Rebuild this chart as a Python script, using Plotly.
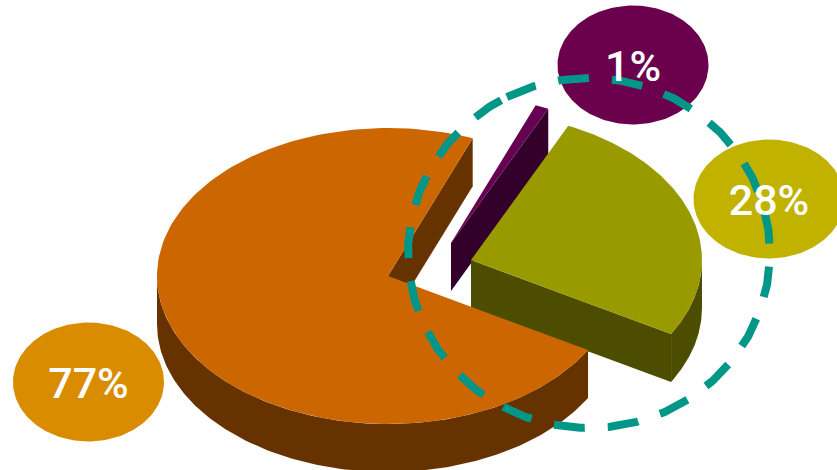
import numpy as np
import plotly.graph_objects as go

# Pie values, listed counter-clockwise starting from the olive slice
labels = ["28%", "1%", "77%"]
values = [28, 1, 77]

# Colours per slice: top face, side wall, label bubble
top_colors = ["#999900", "#660050", "#CC6600"]
wall_colors = ["#4D4D00", "#33002B", "#663300"]
bubble_colors = ["#C2B200", "#6B004D", "#D98C00"]

# Pie geometry in page pixels
CX, CY = 388, 276
RX, RY = 231, 148
DEPTH = 48
START_DEG = -30
explode = [(83, -16), (63, -33), (0, 0)]
bubble_centers = [(769, 199), (633, 65), (88.5, 382)]
BUBBLE_RX, BUBBLE_RY = 75.5, 59.5


def arc(cx, cy, a0, a1, rx=RX, ry=RY, n=160):
    t = np.radians(np.linspace(a0, a1, n))
    return cx + rx * np.cos(t), cy - ry * np.sin(t)


def polygon(xs, ys, color):
    return go.Scatter(
        x=list(xs), y=list(ys), mode="lines", fill="toself", fillcolor=color,
        line=dict(width=0, color=color), hoverinfo="skip",
    )


def top_face(i, a0, a1):
    dx, dy = explode[i]
    x, y = arc(CX + dx, CY + dy, a0, a1)
    return polygon(np.r_[CX + dx, x, CX + dx], np.r_[CY + dy, y, CY + dy], top_colors[i])


def radial_wall(i, angle):
    dx, dy = explode[i]
    px, py = arc(CX + dx, CY + dy, angle, angle, n=1)
    ax, ay = CX + dx, CY + dy
    return polygon(
        [ax, px[0], px[0], ax, ax],
        [ay, py[0], py[0] + DEPTH, ay + DEPTH, ay],
        wall_colors[i],
    )


def arc_wall(i, a0, a1):
    dx, dy = explode[i]
    x, y = arc(CX + dx, CY + dy, a0, a1)
    return polygon(np.r_[x, x[::-1], x[0]], np.r_[y, y[::-1] + DEPTH, y[0]], wall_colors[i])


# Slice boundaries in degrees, from each value's share of the total
sweeps = np.array(values) / sum(values) * 360
edges = START_DEG + np.r_[0, np.cumsum(sweeps)]
olive = (edges[0], edges[1])
purple = (edges[1], edges[2])
orange = (edges[2], edges[3])

traces = [
    radial_wall(2, orange[0]),
    radial_wall(1, purple[0]),
    top_face(1, *purple),
    radial_wall(0, olive[0]),
    arc_wall(0, olive[0], 0),
    top_face(0, *olive),
    arc_wall(2, 180, orange[1]),
    top_face(2, *orange),
]

# Label bubbles
for (bx, by), color in zip(bubble_centers, bubble_colors):
    x, y = arc(bx, by, 0, 360, rx=BUBBLE_RX, ry=BUBBLE_RY, n=180)
    traces.append(polygon(x, y, color))

# Dashed ring around the detached slices
ring_x, ring_y = arc(589, 253, 117, 117 - 360, rx=181, ry=175, n=720)
traces.append(go.Scatter(
    x=ring_x, y=ring_y, mode="lines", hoverinfo="skip",
    line=dict(color="#009688", width=8, dash="31px,23px"),
))

# Percentage labels
traces.append(go.Scatter(
    x=[c[0] for c in bubble_centers], y=[c[1] + 5 for c in bubble_centers],
    mode="text", text=labels, textposition="middle center", hoverinfo="skip",
    textfont=dict(family="Roboto", size=43, color="white", weight=500),
))

fig = go.Figure(traces)
fig.update_layout(
    width=837, height=470, autosize=False, showlegend=False,
    margin=dict(l=0, r=0, t=0, b=0),
    paper_bgcolor="white", plot_bgcolor="white",
    xaxis=dict(range=[0, 837], visible=False, fixedrange=True),
    yaxis=dict(range=[470, 0], visible=False, fixedrange=True),
)
fig.write_html("out.html", config=dict(displayModeBar=False))
